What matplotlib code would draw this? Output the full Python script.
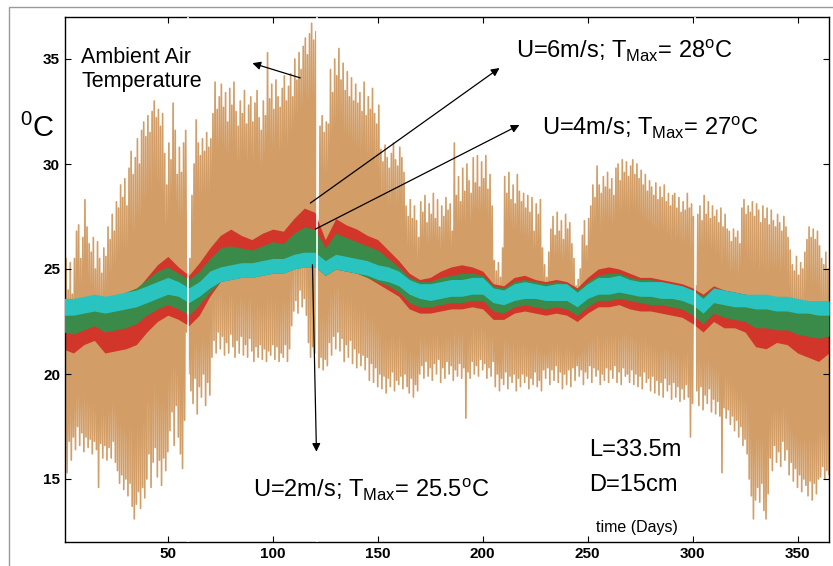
import numpy as np
import matplotlib
matplotlib.use("Agg")
import matplotlib.pyplot as plt
from matplotlib.patches import Rectangle

plt.rcParams['font.family'] = ['Liberation Sans', 'DejaVu Sans']
plt.rcParams['mathtext.default'] = 'regular'

# ambient air temperature, daily max / min (deg C), days 1..365
amb_hi = [
    25.5, 24.0, 25.3, 23.8, 25.5, 26.8, 27.1, 25.5, 26.5, 28.3,
    27.0, 26.2, 25.8, 26.5, 25.0, 26.3, 25.5, 24.8, 26.0, 25.6,
    27.0, 26.4, 27.6, 26.8, 28.2, 27.9, 29.0, 28.4, 29.3, 28.0,
    29.8, 30.6, 29.5, 30.3, 31.2, 30.0, 31.6, 32.0, 31.3, 32.3,
    31.5, 32.5, 33.0, 32.2, 32.6, 31.8, 32.4, 30.5, 29.0, 31.0,
    30.2, 32.9, 31.6, 29.5, 30.8, 29.6, 31.0, 31.6, 24.8, 25.5,
    28.5, 30.0, 32.1, 31.0, 30.4, 31.2, 30.6, 31.5, 30.8, 31.2,
    32.4, 33.9, 32.6, 33.2, 33.8, 32.7, 33.4, 32.0, 33.6, 32.8,
    33.9, 32.5, 31.8, 33.0, 32.4, 33.5, 31.9, 32.8, 33.2, 32.0,
    32.9, 33.5, 32.2, 31.6, 33.0, 32.3, 35.3, 33.1, 33.8, 32.6,
    34.0, 33.2, 32.7, 33.6, 34.2, 33.0, 33.7, 34.3, 33.2, 35.0,
    34.0, 35.3, 34.5, 35.6, 36.0, 35.2, 36.2, 36.7, 35.9, 36.3,
    25.3, 31.8, 32.3, 31.5, 32.0, 31.9, 34.5, 33.4, 35.0, 34.2,
    35.5, 34.0, 34.8, 33.5, 34.4, 33.2, 34.1, 33.0, 33.8, 32.9,
    33.4, 32.5, 33.9, 32.3, 33.2, 32.6, 33.6, 32.4, 31.9, 32.8,
    30.7, 30.1, 30.9, 30.3, 29.8, 30.5, 31.0, 30.2, 29.9, 30.8,
    30.3, 29.6, 28.0, 27.5, 28.3, 27.4, 28.0, 27.3, 26.5, 28.2,
    27.7, 28.5, 27.2, 28.1, 27.6, 28.6, 27.4, 28.3, 27.0, 28.0,
    27.5, 28.4, 27.8, 28.1, 26.8, 31.0, 28.5, 29.4, 28.2, 29.8,
    28.7, 30.0, 29.2, 28.6, 30.3, 29.1, 30.4, 28.9, 30.1, 29.3,
    30.4, 28.8, 29.5, 28.0, 25.4, 24.9, 25.3, 24.6, 26.0, 29.4,
    28.6, 29.6, 28.3, 29.0, 28.1, 29.5, 28.7, 28.2, 28.6, 27.9,
    28.5, 27.7, 28.4, 26.8, 28.1, 27.6, 28.3, 26.0, 25.2, 24.6,
    25.8, 26.9, 27.5, 26.6, 27.7, 26.8, 27.3, 26.4, 27.6, 26.9,
    27.2, 26.2, 25.5, 24.2, 24.5, 25.0, 26.6, 27.3, 26.1, 27.4,
    28.0, 29.0, 28.4, 29.9, 29.0, 28.6, 29.4, 28.9, 29.6, 28.8,
    29.3, 28.5, 29.8, 30.0, 29.2, 30.2, 29.6, 30.1, 29.4, 29.9,
    30.2, 29.5, 30.0, 29.3, 29.7, 29.0, 29.5, 28.7, 29.2, 28.9,
    28.5, 29.1, 28.3, 28.9, 28.4, 29.0, 28.2, 28.6, 28.0, 28.5,
    28.6, 27.9, 28.4, 27.7, 28.2, 27.8, 28.6, 27.9, 28.1, 27.5,
    24.2, 27.6, 28.0, 27.3, 28.5, 27.6, 28.2, 27.4, 28.0, 27.5,
    27.8, 27.2, 27.9, 27.0, 27.6, 26.9, 26.8, 26.3, 26.9, 26.5,
    26.8, 26.2, 27.9, 28.3, 27.6, 28.0, 27.7, 28.2, 27.5, 28.1,
    27.8, 27.2, 28.0, 27.4, 27.9, 27.1, 27.8, 27.3, 27.0, 27.6,
    27.2, 26.8, 27.5, 27.0, 26.5, 25.9, 25.2, 24.9, 25.6, 24.7,
    25.3, 25.0, 25.8, 26.4, 27.0, 26.5, 26.9, 26.4, 26.8, 26.1,
    25.5, 25.2, 25.8, 25.0, 25.4,
]
amb_lo = [
    15.0, 15.3, 16.8, 15.9, 17.0, 16.4, 17.5, 16.6, 17.2, 16.3,
    17.0, 16.5, 16.9, 16.2, 16.8, 16.4, 14.6, 16.7, 16.0, 16.6,
    15.9, 16.5, 16.0, 16.8, 15.8, 15.4, 14.8, 15.2, 14.5, 15.0,
    14.2, 14.8, 13.7, 13.1, 13.8, 14.4, 13.6, 14.6, 14.1, 15.0,
    16.2, 14.6, 15.8, 16.5, 15.1, 15.9, 14.7, 16.0, 15.4, 16.3,
    17.3, 18.2, 16.6, 18.5, 17.0, 16.2, 15.5, 17.8, 22.0, 20.0,
    19.2, 18.6, 19.8, 18.1, 19.4, 18.9, 20.0, 18.5, 19.6, 19.0,
    20.8, 21.6, 21.0, 22.0, 21.2, 21.8, 20.9, 21.5, 21.0, 21.9,
    21.3, 20.8, 21.6, 21.0, 21.8, 20.9, 21.4, 20.8, 21.7, 21.1,
    20.6, 21.3, 20.8, 21.4, 20.7, 21.2, 20.6, 21.1, 20.9, 21.4,
    20.7, 21.3, 20.6, 21.0, 20.8, 21.4, 20.6, 21.2, 22.3, 23.0,
    23.5, 22.9, 24.0, 23.2, 23.6, 22.8, 21.5, 20.8, 21.3, 21.0,
    24.7, 20.3, 20.8, 20.2, 20.7, 20.4, 21.5, 20.9, 21.8, 21.2,
    22.0, 21.1, 21.7, 20.6, 21.4, 20.8, 21.6, 20.5, 21.2, 20.3,
    21.0, 20.4, 20.9, 20.2, 20.8, 19.7, 20.5, 19.6, 20.3, 19.4,
    20.0, 19.3, 19.9, 19.1, 19.8, 19.4, 20.1, 19.2, 19.7, 19.5,
    19.9, 19.3, 20.0, 19.4, 19.1, 19.8, 18.9, 19.5, 19.2, 20.0,
    20.4, 19.8, 20.6, 19.9, 20.3, 19.7, 20.5, 20.0, 20.7, 19.6,
    20.3, 19.8, 20.6, 20.0, 20.4, 19.7, 20.2, 19.9, 20.5, 19.8,
    20.3, 17.9, 20.1, 19.8, 20.6, 20.0, 20.4, 19.9, 20.7, 20.2,
    20.5, 19.8, 20.3, 19.9, 20.6, 19.4, 20.0, 19.2, 19.8, 19.5,
    20.1, 19.3, 19.9, 19.6, 20.0, 19.2, 19.8, 19.4, 20.0, 19.6,
    19.9, 19.3, 19.8, 19.5, 20.1, 19.4, 19.7, 19.2, 20.2, 19.8,
    20.3, 19.5, 20.2, 19.7, 20.4, 19.6, 20.1, 19.3, 20.0, 19.5,
    20.2, 19.4, 20.3, 19.7, 20.4, 19.9, 20.2, 19.5, 20.1, 19.8,
    20.4, 19.6, 20.3, 19.9, 20.2, 19.5, 20.0, 19.7, 20.3, 19.6,
    20.2, 19.8, 20.4, 19.6, 20.1, 19.5, 20.3, 19.9, 20.0, 19.6,
    20.2, 19.5, 20.0, 19.4, 19.9, 19.3, 20.1, 19.6, 19.8, 19.2,
    19.9, 19.1, 19.7, 19.0, 19.6, 18.9, 19.8, 19.2, 19.5, 18.8,
    19.6, 18.9, 19.4, 18.7, 19.3, 18.8, 19.5, 18.9, 17.0, 18.6,
    23.0, 19.2, 18.5, 19.4, 18.3, 19.0, 18.6, 19.3, 18.2, 18.8,
    18.1, 18.7, 18.0, 15.3, 18.4, 17.9, 18.3, 17.6, 18.0, 17.3,
    17.8, 17.0, 17.5, 16.6, 16.9, 16.2, 15.0, 14.2, 13.1, 14.0,
    14.6, 13.9, 14.8, 13.5, 13.1, 14.3, 16.0, 15.4, 16.6, 15.8,
    16.3, 15.6, 16.8, 15.9, 16.4, 15.2, 15.8, 14.9, 15.5, 14.6,
    15.2, 14.4, 15.0, 14.7, 14.2, 14.9, 14.0, 14.8, 14.3, 15.0,
    15.1, 15.6, 15.0, 15.4, 15.2,
]

# fluid temperature bands every 5 days (daily min / max)
band_days = np.arange(0, 366, 5)
u6_lo = [21.2, 21.0, 21.4, 21.6, 21.0, 21.1, 21.2, 21.4, 22.0, 22.5, 22.8, 22.6, 22.3, 22.8, 23.7,
         24.4, 24.6, 24.7, 24.7, 24.8, 24.9, 24.9, 25.1, 25.2, 25.2, 24.7, 25.0, 24.9, 24.8, 24.6,
         24.3, 24.0, 23.7, 23.1, 22.9, 22.9, 23.0, 23.1, 23.1, 23.2, 23.1, 22.6, 22.6, 22.9, 23.0,
         22.9, 22.8, 22.9, 22.8, 22.5, 22.9, 23.2, 23.2, 23.3, 23.1, 23.0, 23.0, 22.9, 22.8, 22.7,
         22.4, 22.0, 22.5, 22.2, 22.2, 22.0, 21.3, 21.2, 21.5, 21.4, 21.0, 20.8, 20.6, 21.0]
u6_hi = [23.3, 23.2, 23.3, 23.4, 23.3, 23.4, 23.6, 24.0, 24.6, 25.2, 25.6, 25.1, 24.7, 25.3, 26.0,
         26.6, 26.9, 26.6, 26.4, 26.7, 26.9, 26.8, 27.4, 27.9, 27.7, 26.4, 27.4, 27.1, 26.9, 26.6,
         26.4, 25.9, 25.4, 24.8, 24.5, 24.6, 24.9, 25.1, 25.2, 25.1, 24.9, 24.3, 24.2, 24.6, 24.7,
         24.5, 24.4, 24.5, 24.4, 24.1, 24.6, 25.0, 25.1, 25.0, 24.8, 24.6, 24.6, 24.5, 24.4, 24.3,
         24.1, 23.8, 24.2, 24.0, 23.9, 23.8, 23.6, 23.6, 23.5, 23.5, 23.4, 23.3, 23.3, 23.3]
u4_lo = [22.0, 21.9, 22.1, 22.3, 22.0, 22.1, 22.2, 22.4, 22.8, 23.1, 23.3, 23.1, 22.8, 23.3, 23.9,
         24.4, 24.5, 24.6, 24.6, 24.7, 24.8, 24.8, 25.0, 25.1, 25.1, 24.7, 25.0, 24.9, 24.8, 24.6,
         24.4, 24.2, 23.9, 23.4, 23.2, 23.2, 23.3, 23.4, 23.4, 23.5, 23.5, 23.0, 22.9, 23.2, 23.3,
         23.2, 23.1, 23.2, 23.1, 22.8, 23.2, 23.5, 23.5, 23.6, 23.5, 23.4, 23.3, 23.3, 23.2, 23.1,
         22.8, 22.4, 22.9, 22.7, 22.6, 22.5, 22.2, 22.2, 22.1, 22.1, 21.9, 21.8, 21.7, 21.8]
u4_hi = [23.5, 23.5, 23.6, 23.7, 23.6, 23.7, 23.9, 24.1, 24.5, 24.9, 25.1, 24.8, 24.5, 24.9, 25.5,
         26.0, 26.1, 26.0, 25.9, 26.1, 26.3, 26.2, 26.7, 27.0, 26.9, 26.0, 26.7, 26.5, 26.3, 26.1,
         25.9, 25.5, 25.1, 24.6, 24.4, 24.4, 24.6, 24.7, 24.8, 24.8, 24.7, 24.2, 24.1, 24.4, 24.5,
         24.4, 24.3, 24.4, 24.3, 24.0, 24.4, 24.7, 24.8, 24.8, 24.6, 24.5, 24.5, 24.4, 24.3, 24.2,
         24.0, 23.7, 24.1, 24.0, 23.9, 23.8, 23.7, 23.7, 23.6, 23.6, 23.5, 23.4, 23.4, 23.4]
u2_lo = [22.8, 22.8, 22.9, 23.0, 22.9, 23.0, 23.1, 23.2, 23.4, 23.6, 23.8, 23.7, 23.4, 23.7, 24.1,
         24.4, 24.5, 24.6, 24.6, 24.7, 24.8, 24.8, 25.0, 25.1, 25.1, 24.7, 25.0, 24.9, 24.8, 24.7,
         24.5, 24.4, 24.2, 23.8, 23.6, 23.5, 23.6, 23.7, 23.7, 23.8, 23.8, 23.4, 23.3, 23.5, 23.6,
         23.6, 23.5, 23.5, 23.5, 23.2, 23.6, 23.8, 23.8, 23.9, 23.8, 23.7, 23.7, 23.6, 23.6, 23.5,
         23.3, 22.9, 23.4, 23.3, 23.2, 23.2, 23.1, 23.1, 23.0, 23.0, 22.9, 22.9, 22.8, 22.8]
u2_hi = [23.6, 23.6, 23.7, 23.8, 23.7, 23.8, 23.9, 24.0, 24.2, 24.4, 24.6, 24.4, 24.1, 24.4, 24.9,
         25.1, 25.2, 25.3, 25.3, 25.4, 25.5, 25.5, 25.7, 25.8, 25.8, 25.4, 25.7, 25.6, 25.5, 25.4,
         25.2, 25.1, 24.9, 24.5, 24.3, 24.3, 24.4, 24.5, 24.5, 24.6, 24.6, 24.1, 24.0, 24.3, 24.4,
         24.3, 24.2, 24.3, 24.3, 23.9, 24.3, 24.6, 24.6, 24.7, 24.5, 24.4, 24.4, 24.4, 24.3, 24.2,
         24.0, 23.6, 24.1, 24.0, 23.9, 23.8, 23.8, 23.8, 23.7, 23.7, 23.6, 23.5, 23.5, 23.5]

# days with missing records (white gaps)
gap_days = [59.5, 121, 301]

tan = '#D29D66'
red = '#D2362A'
green = '#3A8A4A'
cyan = '#2AC4C0'

fig = plt.figure(figsize=(8.33, 5.66), dpi=100)
fig.patches.append(Rectangle((9 / 833, -0.1), 1.2, 1 - 7 / 566 + 0.1, transform=fig.transFigure,
                             fill=False, edgecolor='#9a9a9a', lw=1.0))
ax = fig.add_axes([65 / 833, 1 - 542 / 566, (829 - 65) / 833, (542 - 17) / 566])

# ambient trace: one low and one high per day
days = np.arange(1, len(amb_hi) + 1)
tx = (np.repeat(days, 2) + np.tile([0.0, 0.5], len(days))).astype(float)
ty = np.column_stack([amb_lo, amb_hi]).ravel()
ax.plot(tx, ty, color=tan, lw=1.2, zorder=1)

ax.fill_between(band_days, u6_lo, u6_hi, color=red, lw=0, zorder=2)
ax.fill_between(band_days, u4_lo, u4_hi, color=green, lw=0, zorder=3)
ax.fill_between(band_days, u2_lo, u2_hi, color=cyan, lw=0, zorder=4)
for g in gap_days:
    ax.axvline(g, color='white', lw=1.2, zorder=5)

ax.set_xlim(1, 365)
ax.set_ylim(12, 37)
ax.set_xticks([50, 100, 150, 200, 250, 300, 350])
ax.set_yticks([15, 20, 25, 30, 35])
ax.tick_params(direction='in', top=True, right=True, length=4, width=0.8,
               labelsize=11)
for lab in ax.get_xticklabels() + ax.get_yticklabels():
    lab.set_fontweight('bold')
for s in ax.spines.values():
    s.set_linewidth(1.0)

fig.text(20 / 833, 1 - 128 / 566, r'$^{0}$C', fontsize=21, va='center', ha='left')

arrow = dict(arrowstyle='-|>', color='black', lw=0.9, mutation_scale=12, shrinkA=0, shrinkB=0)
ax.text(8.8, 34.5, 'Ambient Air\nTemperature', fontsize=15.5, va='center', ha='left',
        linespacing=1.15, zorder=6)
ax.annotate('', xy=(90.3, 34.8), xytext=(113.1, 34.1), arrowprops=arrow, zorder=6)

ax.text(216, 35.4, r'U=6m/s; T$_{Max}$= 28$^{o}$C', fontsize=17, va='center', ha='left', zorder=6)
ax.annotate('', xy=(208, 34.57), xytext=(117.9, 28.14), arrowprops=arrow, zorder=6)

ax.text(228.4, 31.7, r'U=4m/s; T$_{Max}$= 27$^{o}$C', fontsize=17, va='center', ha='left', zorder=6)
ax.annotate('', xy=(217.5, 31.86), xytext=(120.3, 26.9), arrowprops=arrow, zorder=6)

ax.text(90.8, 14.5, r'U=2m/s; T$_{Max}$= 25.5$^{o}$C', fontsize=17, va='center', ha='left', zorder=6)
ax.annotate('', xy=(120.8, 16.3), xytext=(118.9, 25.2), arrowprops=arrow, zorder=6)

ax.text(250.7, 16.4, 'L=33.5m', fontsize=17, va='center', ha='left', zorder=6)
ax.text(250.7, 14.7, 'D=15cm', fontsize=17, va='center', ha='left', zorder=6)
ax.text(273.5, 12.67, 'time (Days)', fontsize=11.5, va='center', ha='center', zorder=6)

fig.savefig('out.png', dpi=100)
